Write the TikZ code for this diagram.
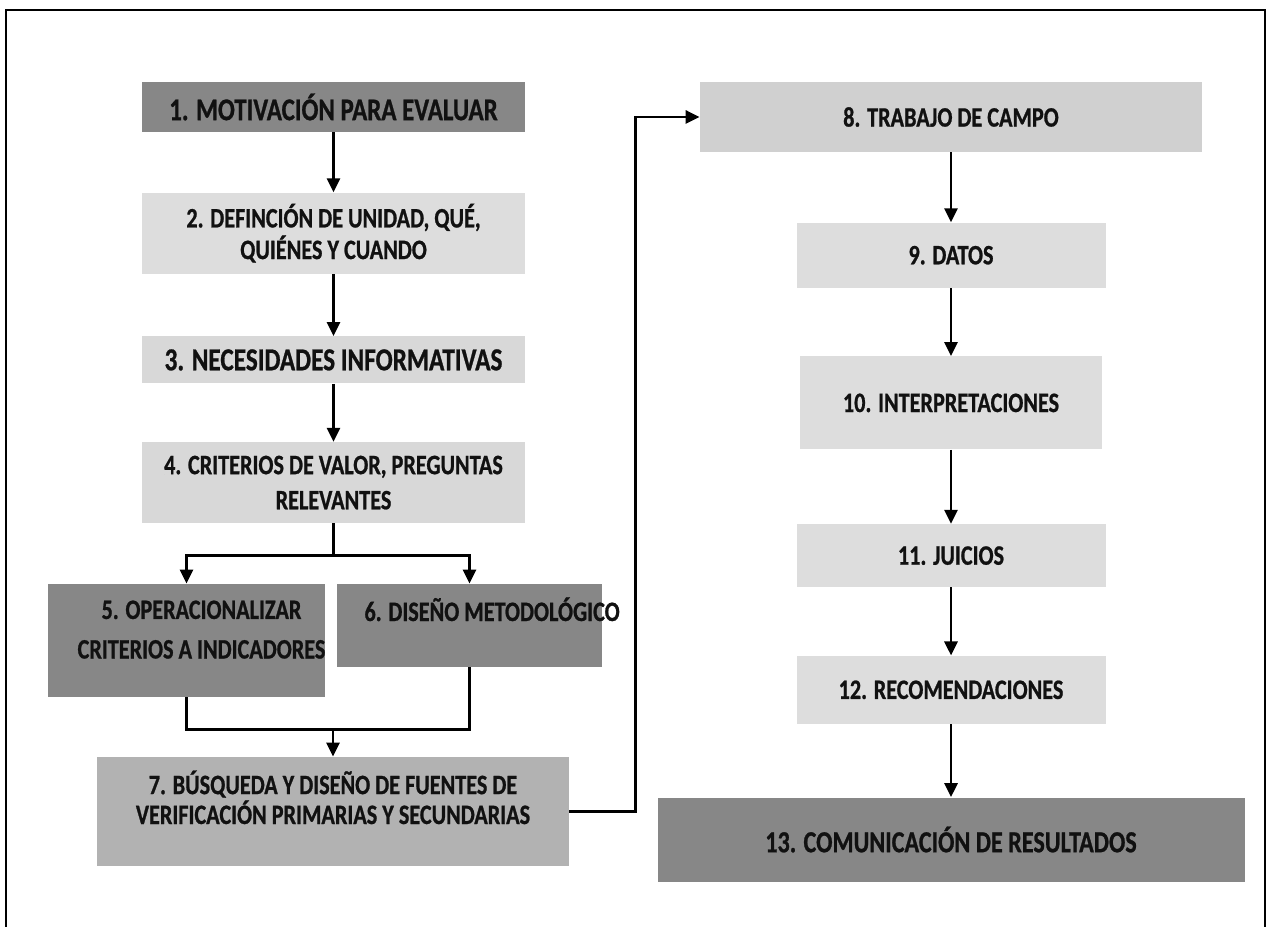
\documentclass[tikz,border=0pt]{standalone}
\usepackage{fontspec}
\setmainfont{Carlito}[FakeStretch=0.79,BoldFeatures={FakeBold=0.8}]
\usepackage{tikz}
\usetikzlibrary{arrows.meta,positioning}
\definecolor{oscuro}{RGB}{135,135,135}
\definecolor{medio}{RGB}{178,178,178}
\definecolor{campo}{RGB}{208,208,208}
\definecolor{claro}{RGB}{221,221,221}
\definecolor{gris}{RGB}{216,216,216}
\definecolor{texto}{RGB}{17,17,17}
\newcommand{\tam}[2]{\fontsize{#1}{#2}\selectfont\bfseries}

\begin{document}
\begin{tikzpicture}[
  font=\tam{16}{18},
  paso/.style={fill=claro,inner sep=0pt,align=center,text=texto},
  arr/.style={-{Triangle[length=2.8mm,width=2.6mm]},line width=1.6pt},
  conn/.style={line width=1.6pt},
]
\useasboundingbox (0,0) rectangle (25.34,-18.54);
% marco
\draw[line width=1.5pt] (0.12,-18.54) |- (25.3,-0.2) -- (25.3,-18.54);
% columna izquierda
\node[paso,fill=oscuro,font=\tam{18}{20},minimum width=7.66cm,minimum height=1cm] (b1) at (6.67,-2.14) {1. MOTIVACIÓN PARA EVALUAR};
\node[paso,minimum width=7.66cm,minimum height=1.62cm,below=1.2cm of b1] (b2) {2. DEFINCIÓN DE UNIDAD, QUÉ,\\QUIÉNES Y CUANDO};
\node[paso,fill=gris,font=\tam{18.2}{20},minimum width=7.66cm,minimum height=0.94cm,below=1.24cm of b2] (b3) {3. NECESIDADES INFORMATIVAS};
\node[paso,fill=gris,font=\tam{16}{20},minimum width=7.66cm,minimum height=1.62cm,below=1.16cm of b3] (b4) {4. CRITERIOS DE VALOR, PREGUNTAS\\RELEVANTES};
\node[paso,fill=oscuro,font=\tam{16}{22.5},minimum width=5.54cm,text height=1.49cm,text depth=0.77cm] (b5) at (3.73,-12.81)
  {\hspace*{0.6cm}5. OPERACIONALIZAR\\\hspace*{0.6cm}CRITERIOS A INDICADORES};
\node[paso,fill=oscuro,inner xsep=0.55cm,text height=0.74cm,text depth=0.92cm] (b6) at (9.39,-12.51)
  {\makebox[4.2cm][l]{6. DISEÑO METODOLÓGICO}};
\node[paso,fill=medio,font=\tam{16}{17},minimum width=9.44cm,text height=1.34cm,text depth=0.84cm] (b7) at (6.66,-16.23)
  {7. BÚSQUEDA Y DISEÑO DE FUENTES DE\\VERIFICACIÓN PRIMARIAS Y SECUNDARIAS};
% columna derecha
\node[paso,fill=campo,minimum width=10.04cm,minimum height=1.4cm] (b8) at (19.02,-2.34) {8. TRABAJO DE CAMPO};
\node[paso,minimum width=6.18cm,minimum height=1.3cm,below=1.4cm of b8] (b9) {9. DATOS};
\node[paso,minimum width=6.04cm,minimum height=1.86cm,below=1.36cm of b9] (b10) {10. INTERPRETACIONES};
\node[paso,minimum width=6.18cm,minimum height=1.26cm,below=1.48cm of b10] (b11) {11. JUICIOS};
\node[paso,minimum width=6.18cm,minimum height=1.36cm,below=1.36cm of b11] (b12) {12. RECOMENDACIONES};
\node[paso,fill=oscuro,font=\tam{17.4}{20},minimum width=11.74cm,minimum height=1.68cm,below=1.46cm of b12] (b13) {13. COMUNICACIÓN DE RESULTADOS};
% flechas
\draw[arr] (b1) -- (b2);
\draw[arr] (b2) -- (b3);
\draw[arr] (b3) -- (b4);
\coordinate[below=0.64cm of b4.south] (rama);
\draw[conn] (b4.south) -- (rama);
\draw[arr] (rama) -| (b5.north);
\draw[arr] (rama) -| (b6.north);
\coordinate[above=0.54cm of b7.north] (union);
\draw[conn] (b5.south) |- (union);
\draw[conn] (b6.south) |- (union);
\draw[arr] (union) -- (b7.north);
\draw[arr] (b7.east) -- ++(1.32,0) |- (b8.west);
\draw[arr] (b8) -- (b9);
\draw[arr] (b9) -- (b10);
\draw[arr] (b10) -- (b11);
\draw[arr] (b11) -- (b12);
\draw[arr] (b12) -- (b13);
\end{tikzpicture}
\end{document}
